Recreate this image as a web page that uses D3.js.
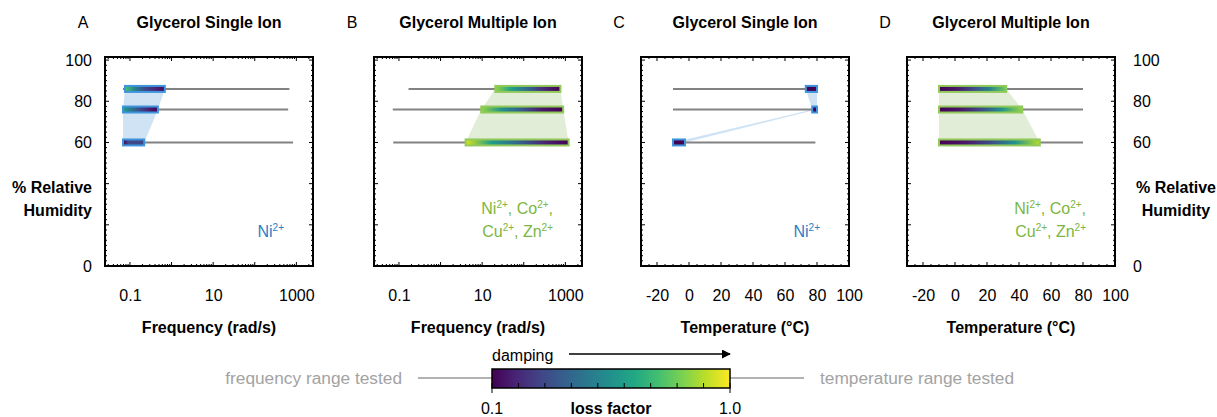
<!DOCTYPE html>
<html lang="en">
<head>
    <meta charset="UTF-8">
    <title>Glycerol ion damping ranges</title>
    <script src="https://d3js.org/d3.v7.min.js"></script>
    <style>
        body { margin: 0; background: #fff; }
        text { font-family: "Liberation Sans", Arial, sans-serif; }
    </style>
</head>
<body>
    <div id="myGraph"></div>

    <script type="text/javascript">
        // panel headers
        const panelLetters = ["A", "B", "C", "D"];
        const panelTitles = ["Glycerol Single Ion", "Glycerol Multiple Ion", "Glycerol Single Ion", "Glycerol Multiple Ion"];
        const xTitles = ["Frequency (rad/s)", "Frequency (rad/s)", "Temperature (\u00B0C)", "Temperature (\u00B0C)"];

        // relative humidity of each row (%)
        const humidity = [86, 76, 60];
        const humidityTicks = [0, 60, 80, 100];
        const freqTicks = [0.1, 10, 1000];
        const tempTicks = [-20, 0, 20, 40, 60, 80, 100];

        // A : single ion, frequency (rad/s)
        const testedA = [[0.068, 680], [0.068, 635], [0.068, 835]];
        const activeA = [[0.076, 0.69], [0.068, 0.47], [0.068, 0.22]];
        const lossA = [[0.75, 0.5, 0.3, 0.2, 0.12], [0.6, 0.45, 0.3, 0.18, 0.1], [0.1, 0.3, 0.3, 0.3, 0.28]];

        // B : multiple ion, frequency (rad/s)
        const testedB = [[0.17, 760], [0.071, 885], [0.073, 1200]];
        const activeB = [[20.7, 760], [9.5, 885], [4, 1200]];
        const lossB = [[0.85, 0.6, 0.4, 0.2, 0.1], [0.85, 0.55, 0.35, 0.15, 0.1], [0.95, 0.6, 0.4, 0.2, 0.1]];

        // C : single ion, temperature (°C)
        const testedC = [[-10, 80], [-10, 80], [-10, 79]];
        const activeC = [[73, 80], [77, 80], [-10, -2.5]];
        const lossC = [[0.15, 0.1, 0.1, 0.1, 0.1], [0.1, 0.1, 0.1, 0.1, 0.1], [0.12, 0.1, 0.1, 0.1, 0.12]];

        // D : multiple ion, temperature (°C)
        const testedD = [[-10, 80], [-10, 80], [-10, 80]];
        const activeD = [[-10, 32], [-10, 42], [-10, 53]];
        const lossD = [[0.1, 0.15, 0.3, 0.5, 0.8], [0.1, 0.15, 0.3, 0.55, 0.85], [0.1, 0.15, 0.3, 0.55, 0.9]];

        // colour bar
        const lossTicks = [0.1, 0.2, 0.3, 0.4, 0.5, 0.6, 0.7, 0.8, 0.9, 1.0];

        const blue = "#2a80c8", blueEdge = "#3f95dd", blueFill = "#cfe3f4";
        const green = "#7bb640", greenEdge = "#93c95a", greenFill = "#e1edd6";

        const panels = [
            { tested: testedA, active: activeA, loss: lossA, log: true, ion: ["Ni"], col: blue, edge: blueEdge, fill: blueFill },
            { tested: testedB, active: activeB, loss: lossB, log: true, ion: ["Ni", "Co", "Cu", "Zn"], col: green, edge: greenEdge, fill: greenFill },
            { tested: testedC, active: activeC, loss: lossC, log: false, ion: ["Ni"], col: blue, edge: blueEdge, fill: blueFill },
            { tested: testedD, active: activeD, loss: lossD, log: false, ion: ["Ni", "Co", "Cu", "Zn"], col: green, edge: greenEdge, fill: greenFill }
        ];

        const W = 1217, H = 417;
        const lefts = [105, 374, 641, 907];
        const pw = 208, plotTop = 57, plotBottom = 266;

        const svg = d3.select("#myGraph").append("svg")
            .attr("width", W).attr("height", H);
        const defs = svg.append("defs");

        const y = d3.scaleLinear().domain([0, 101.5]).range([plotBottom, plotTop]);
        const lossColor = v => d3.interpolateViridis((v - 0.1) / 0.9);

        panels.forEach((p, i) => {
            const x0 = lefts[i];
            const x = p.log
                ? d3.scaleLog().domain([Math.pow(10, -1.6), Math.pow(10, 3.4)]).range([x0, x0 + pw])
                : d3.scaleLinear().domain([-30, 100]).range([x0, x0 + pw]);
            const g = svg.append("g");

            // headers
            g.append("text").attr("x", x0 - 22).attr("y", 28).attr("text-anchor", "middle")
                .style("font-size", "16px").text(panelLetters[i]);
            g.append("text").attr("x", x0 + pw / 2).attr("y", 28).attr("text-anchor", "middle")
                .style("font-size", "16px").style("font-weight", "bold").text(panelTitles[i]);

            // shaded band through the active parts
            const band = humidity.map((h, r) => [x(p.active[r][1]), y(h)])
                .concat(humidity.map((h, r) => [x(p.active[r][0]), y(h)]).reverse());
            g.append("polygon").attr("points", band.map(d => d.join(",")).join(" "))
                .attr("fill", p.fill);

            // tested range
            g.selectAll(".tested").data(humidity).enter().append("line")
                .attr("x1", (h, r) => x(p.tested[r][0]))
                .attr("x2", (h, r) => x(p.tested[r][1]))
                .attr("y1", h => y(h)).attr("y2", h => y(h))
                .attr("stroke", "#828282").attr("stroke-width", 2);

            // active range with loss factor gradient
            humidity.forEach((h, r) => {
                const id = "grad" + i + "_" + r;
                const lg = defs.append("linearGradient").attr("id", id);
                p.loss[r].forEach((v, k, a) => {
                    lg.append("stop").attr("offset", (k / (a.length - 1) * 100) + "%")
                        .attr("stop-color", lossColor(v));
                });
                const xa = x(p.active[r][0]), xb = x(p.active[r][1]);
                g.append("rect").attr("x", xa).attr("y", y(h) - 3)
                    .attr("width", Math.max(xb - xa, 2)).attr("height", 6)
                    .attr("fill", "url(#" + id + ")")
                    .attr("stroke", p.edge).attr("stroke-width", 2);
            });

            // frame with inward ticks
            g.append("rect").attr("x", x0).attr("y", plotTop).attr("width", pw).attr("height", plotBottom - plotTop)
                .attr("fill", "none").attr("stroke", "#000").attr("stroke-width", 2);

            let xt = [];
            if (p.log) {
                for (let e = -2; e <= 3; e++) for (let m = 1; m < 10; m++) {
                    const v = m * Math.pow(10, e);
                    if (v >= x.domain()[0] && v <= x.domain()[1]) xt.push([v, m === 1 ? 4 : 2]);
                }
            } else {
                for (let v = -30; v <= 100; v += 5) xt.push([v, v % 20 === 0 ? 4 : 2]);
            }
            xt.forEach(t => {
                g.append("line").attr("x1", x(t[0])).attr("x2", x(t[0]))
                    .attr("y1", plotBottom).attr("y2", plotBottom - t[1]).attr("stroke", "#000");
                g.append("line").attr("x1", x(t[0])).attr("x2", x(t[0]))
                    .attr("y1", plotTop).attr("y2", plotTop + t[1]).attr("stroke", "#000");
            });
            for (let v = 0; v <= 100; v += 2.5) {
                const len = v % 20 === 0 ? 4 : 2;
                g.append("line").attr("x1", x0).attr("x2", x0 + len)
                    .attr("y1", y(v)).attr("y2", y(v)).attr("stroke", "#000");
                g.append("line").attr("x1", x0 + pw).attr("x2", x0 + pw - len)
                    .attr("y1", y(v)).attr("y2", y(v)).attr("stroke", "#000");
            }

            // x tick labels and title
            const xAxis = d3.axisBottom(x).tickValues(p.log ? freqTicks : tempTicks)
                .tickFormat(d => String(d)).tickSize(0).tickPadding(0);
            const ax = g.append("g").attr("transform", "translate(0," + 290 + ")").call(xAxis);
            ax.select(".domain").remove();
            ax.selectAll("text").style("font-size", "16px").style("font-family", "Liberation Sans, Arial, sans-serif")
                .attr("fill", "#000").attr("dy", "0.71em");
            g.append("text").attr("x", x0 + pw / 2).attr("y", 333).attr("text-anchor", "middle")
                .style("font-size", "16px").style("font-weight", "bold").text(xTitles[i]);

            // ion label
            const lines = p.ion.length > 1 ? [p.ion.slice(0, 2), p.ion.slice(2)] : [p.ion];
            lines.forEach((ions, li) => {
                const t = g.append("text").attr("x", x0 + pw - 29).attr("y", 237 - (lines.length - 1 - li) * 23)
                    .attr("text-anchor", "end").attr("fill", p.col).style("font-size", "16px");
                ions.forEach((ion, k) => {
                    t.append("tspan").text(ion);
                    t.append("tspan").attr("dy", -6).style("font-size", "10px").text("2+");
                    t.append("tspan").attr("dy", 6).text(k < ions.length - 1 || li === 0 && lines.length > 1 ? ", " : "");
                });
            });
        });

        // humidity axes, left and right
        const yl = svg.append("g").attr("transform", "translate(92,0)")
            .call(d3.axisLeft(y).tickValues(humidityTicks).tickSize(0).tickPadding(0));
        const yr = svg.append("g").attr("transform", "translate(1133,0)")
            .call(d3.axisRight(y).tickValues(humidityTicks).tickSize(0).tickPadding(0));
        [yl, yr].forEach(a => {
            a.select(".domain").remove();
            a.selectAll("text").style("font-size", "16px").style("font-family", "Liberation Sans, Arial, sans-serif").attr("fill", "#000");
        });
        [["% Relative", 193], ["Humidity", 216]].forEach(d => {
            svg.append("text").attr("x", 92).attr("y", d[1]).attr("text-anchor", "end")
                .style("font-size", "16px").style("font-weight", "bold").text(d[0]);
            svg.append("text").attr("x", 1176).attr("y", d[1]).attr("text-anchor", "middle")
                .style("font-size", "16px").style("font-weight", "bold").text(d[0]);
        });

        // colour bar legend
        const cb = d3.scaleLinear().domain([0.1, 1.0]).range([492, 730]);
        const cbTop = 369, cbH = 19;
        const cg = defs.append("linearGradient").attr("id", "cbar");
        d3.range(0, 1.0001, 0.1).forEach(t => {
            cg.append("stop").attr("offset", (t * 100) + "%").attr("stop-color", d3.interpolateViridis(t));
        });
        svg.append("line").attr("x1", 418).attr("x2", cb(0.1)).attr("y1", 378).attr("y2", 378)
            .attr("stroke", "#999").attr("stroke-width", 1.5);
        svg.append("line").attr("x1", cb(1.0)).attr("x2", 804).attr("y1", 378).attr("y2", 378)
            .attr("stroke", "#999").attr("stroke-width", 1.5);
        svg.append("rect").attr("x", cb(0.1)).attr("y", cbTop).attr("width", cb(1.0) - cb(0.1)).attr("height", cbH)
            .attr("fill", "url(#cbar)").attr("stroke", "#000").attr("stroke-width", 1.5);
        lossTicks.forEach((v, k) => {
            const end = k === 0 || k === lossTicks.length - 1;
            svg.append("line").attr("x1", cb(v)).attr("x2", cb(v))
                .attr("y1", cbTop + cbH - 5).attr("y2", cbTop + cbH + (end ? 5 : 0))
                .attr("stroke", "#000").attr("stroke-width", 1);
        });
        svg.append("text").attr("x", cb(0.1)).attr("y", 414).attr("text-anchor", "middle")
            .style("font-size", "16px").text("0.1");
        svg.append("text").attr("x", cb(1.0)).attr("y", 414).attr("text-anchor", "middle")
            .style("font-size", "16px").text("1.0");
        svg.append("text").attr("x", cb(0.55)).attr("y", 414).attr("text-anchor", "middle")
            .style("font-size", "16px").style("font-weight", "bold").text("loss factor");
        svg.append("text").attr("x", 402).attr("y", 384).attr("text-anchor", "end")
            .attr("fill", "#a3a3a3").style("font-size", "17.3px").text("frequency range tested");
        svg.append("text").attr("x", 820).attr("y", 384)
            .attr("fill", "#a3a3a3").style("font-size", "17.3px").text("temperature range tested");

        // damping arrow
        defs.append("marker").attr("id", "arrow").attr("viewBox", "0 0 10 10")
            .attr("refX", 9).attr("refY", 5).attr("markerWidth", 6).attr("markerHeight", 6)
            .attr("orient", "auto")
            .append("path").attr("d", "M0,0 L10,5 L0,10 z").attr("fill", "#000");
        svg.append("text").attr("x", cb(0.1)).attr("y", 361).style("font-size", "16px").text("damping");
        svg.append("line").attr("x1", 569).attr("x2", cb(1.0)).attr("y1", 354).attr("y2", 354)
            .attr("stroke", "#000").attr("stroke-width", 1.5).attr("marker-end", "url(#arrow)");
    </script>
</body>
</html>
